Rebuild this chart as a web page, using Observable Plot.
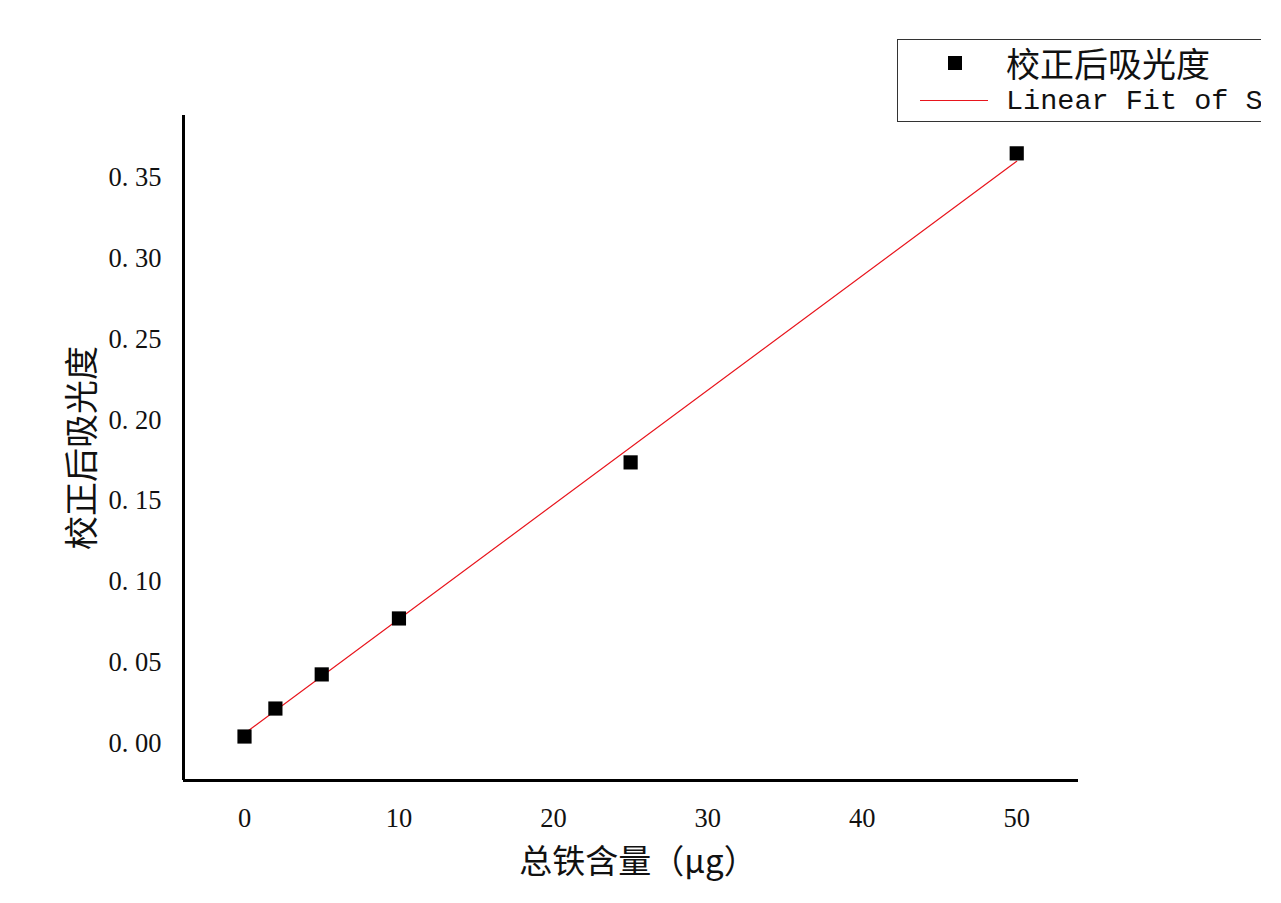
<!DOCTYPE html>
<html>
<head>
<meta charset="utf-8">
<script src="https://cdn.jsdelivr.net/npm/d3@7"></script>
<script src="https://cdn.jsdelivr.net/npm/@observablehq/plot@0.6"></script>
<style>
  html, body { margin: 0; padding: 0; background: #fff; }
  #wrap { position: relative; width: 1281px; height: 903px; overflow: hidden; }
  #legend {
    position: absolute; left: 897px; top: 39px; width: 372px; height: 83px;
    border: 1px solid #333; background: #fff; overflow: hidden; box-sizing: border-box;
  }
  #clip { position: absolute; left: 1261px; top: 0; width: 20px; height: 903px; background: #fff; }
  .lrow { position: absolute; left: 0; white-space: nowrap; }
</style>
</head>
<body>
<div id="wrap">
  <div id="chart"></div>
  <div id="legend"></div>
  <div id="clip"></div>
</div>
<script>
const ironUg = [0, 2, 5, 10, 25, 50];
const absorbance = [0.0043, 0.0216, 0.0427, 0.0773, 0.1738, 0.3649];
const fitX = [0, 50];
const fitY = [0.0062, 0.3600];
const xTicks = [0, 10, 20, 30, 40, 50];
const yTicks = [0, 0.05, 0.10, 0.15, 0.20, 0.25, 0.30, 0.35];
const seriesName = "校正后吸光度";
const fitName = "Linear Fit of S";
const xLabel = "总铁含量（μg）";
const yLabel = "校正后吸光度";

const points = ironUg.map((x, i) => ({x, y: absorbance[i]}));
const fit = fitX.map((x, i) => ({x, y: fitY[i]}));
const xDom = [-3.95, 54.0];
const yDom = [-0.0229, 0.3883];

const cjk = "'Noto Sans CJK SC', sans-serif";
const serif = "'Liberation Serif', 'DejaVu Serif', serif";

const chart = Plot.plot({
  width: 1281,
  height: 903,
  marginLeft: 183,
  marginRight: 203,
  marginTop: 115,
  marginBottom: 123,
  style: {fontFamily: serif, fontSize: "26.5px", color: "#111", background: "#fff"},
  x: {domain: xDom, ticks: xTicks, tickSize: 0, tickPadding: 28, tickFormat: d => String(d), label: null},
  y: {domain: yDom, ticks: yTicks, tickSize: 0, tickPadding: 22, tickFormat: d => d3.format(".2f")(d).replace(".", ". "), label: null},
  marks: [
    Plot.line(fit, {x: "x", y: "y", stroke: "#e8151d", strokeWidth: 1.2}),
    Plot.dot(points, {x: "x", y: "y", symbol: "square", r: 8, fill: "#000", stroke: "none"}),
    Plot.ruleX([xDom[0]], {stroke: "#000", strokeWidth: 3}),
    Plot.ruleY([yDom[0]], {stroke: "#000", strokeWidth: 3}),
    Plot.text([xLabel], {frameAnchor: "bottom", textAnchor: "middle", lineAnchor: "middle", dx: 7, dy: 82, text: d => d, fontSize: 33, fontFamily: cjk, fill: "#111"}),
    Plot.text([yLabel], {frameAnchor: "left", textAnchor: "middle", lineAnchor: "middle", dx: -100, rotate: -90, text: d => d, fontSize: 34, fontFamily: cjk, fill: "#111"})
  ]
});
document.getElementById("chart").appendChild(chart);

const legend = document.getElementById("legend");
legend.innerHTML = `
  <div class="lrow" style="top:0px;height:44px;">
    <div style="position:absolute;left:50px;top:16px;width:14px;height:14px;background:#000;"></div>
    <div style="position:absolute;left:108px;top:0px;font-family:${cjk};font-size:34px;line-height:46px;color:#111;">${seriesName}</div>
  </div>
  <div class="lrow" style="top:44px;height:38px;">
    <div style="position:absolute;left:22px;top:16px;width:68px;height:1px;background:#e8151d;"></div>
    <div style="position:absolute;left:108px;top:0px;font-family:'Liberation Mono', monospace;font-size:28.5px;line-height:36px;color:#111;">${fitName}</div>
  </div>`;
</script>
</body>
</html>
